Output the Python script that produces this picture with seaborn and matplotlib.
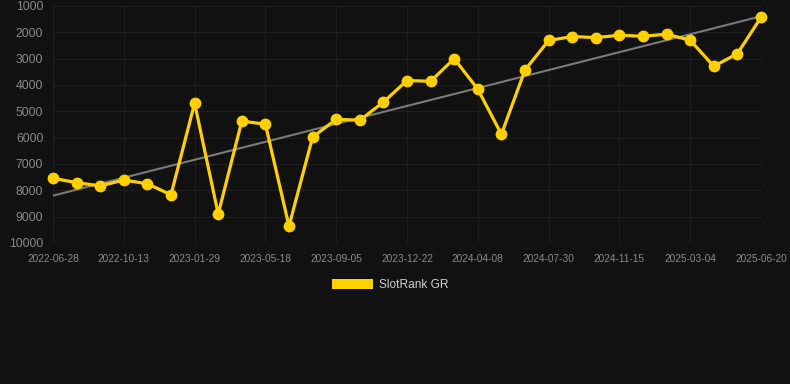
import numpy as np
import pandas as pd
import matplotlib
matplotlib.use('Agg')
import matplotlib.pyplot as plt
import seaborn as sns
from matplotlib.patches import Patch

# valores (rank, quanto menor melhor)
rank_gr = [7540, 7710, 7830, 7610, 7750, 8170, 4690, 8900, 5370, 5490,
           9360, 5980, 5300, 5340, 4650, 3830, 3860, 3000, 4160, 5870,
           3430, 2310, 2160, 2200, 2110, 2150, 2070, 2300, 3290, 2810, 1430]
tick_labels = ['2022-06-28', '2022-10-13', '2023-01-29', '2023-05-18',
               '2023-09-05', '2023-12-22', '2024-04-08', '2024-07-30',
               '2024-11-15', '2025-03-04', '2025-06-20']
y_ticks = [1000, 2000, 3000, 4000, 5000, 6000, 7000, 8000, 9000, 10000]

df = pd.DataFrame({'idx': np.arange(len(rank_gr)), 'rank': rank_gr})

bg = '#111111'
grid_c = '#1e1e1e'
txt_c = '#8a8a8a'
amarelo = '#FFD000'

sns.set_theme(style='dark')
plt.rcParams['font.family'] = ['Liberation Sans', 'DejaVu Sans']

fig = plt.figure(figsize=(7.9, 3.84), dpi=100, facecolor=bg)
ax = fig.add_axes([53 / 790, 1 - 243 / 384, 708 / 790, 237 / 384])
ax.set_facecolor(bg)

# linha de tendência (ajuste linear)
coef = np.polyfit(df['idx'], df['rank'], 1)
trend = np.polyval(coef, df['idx'])
ax.plot(df['idx'], trend, color='#7a7a7a', lw=1.5, zorder=2)

sns.lineplot(data=df, x='idx', y='rank', ax=ax, color=amarelo, lw=2.3,
             marker='o', markersize=8.5, markeredgewidth=0, zorder=3,
             clip_on=False)

ax.set_xlim(0, len(rank_gr) - 1)
ax.set_ylim(10000, 1000)
ax.set_xticks(np.arange(0, len(rank_gr), 3))
ax.set_xticklabels(tick_labels)
ax.set_yticks(y_ticks)
ax.set_xlabel('')
ax.set_ylabel('')
ax.tick_params(axis='x', colors=txt_c, labelsize=7.3, length=4, color=grid_c, pad=4)
ax.tick_params(axis='y', colors=txt_c, labelsize=8.8, length=0, pad=7)
ax.grid(True, color=grid_c, lw=0.8)
for s in ax.spines.values():
    s.set_visible(False)

fig.legend(handles=[Patch(facecolor=amarelo, edgecolor='none', label='SlotRank GR')],
           loc='center', bbox_to_anchor=(0.494, 1 - 285 / 384), frameon=False,
           fontsize=8.6, labelcolor='#d0d0d0', handlelength=3.4, handleheight=1.0,
           handletextpad=0.55)

fig.savefig('out.png', dpi=100, facecolor=bg)
